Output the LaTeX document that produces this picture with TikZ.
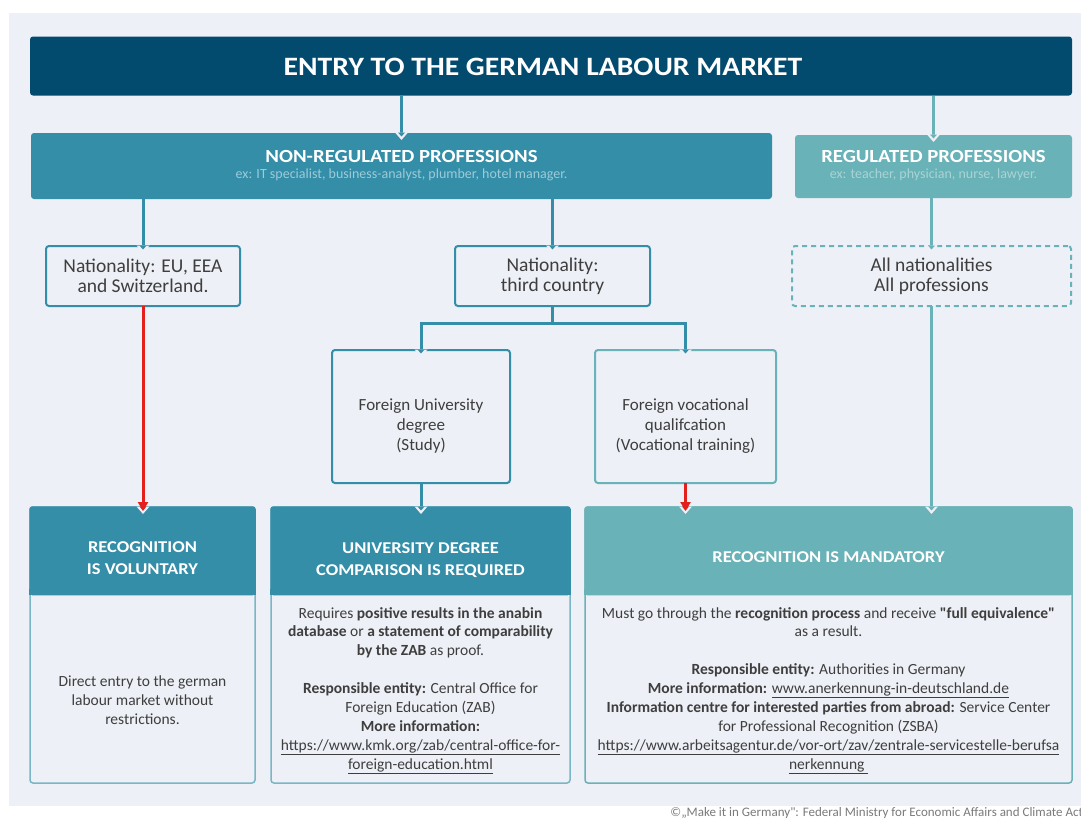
\documentclass[tikz,border=0pt]{standalone}
\usepackage{fontspec}
\setmainfont{Carlito}[Ligatures=TeXOff]
\newfontfamily\hdrfont[FakeStretch=1.12]{Carlito}
\usetikzlibrary{arrows.meta}
\definecolor{navy}{HTML}{034A6F}
\definecolor{teala}{HTML}{348EA8}
\definecolor{tealb}{HTML}{69B2B7}
\definecolor{panel}{HTML}{EDF0F6}
\definecolor{txt}{HTML}{3E3E3E}
\definecolor{redarrow}{HTML}{E3201B}
\definecolor{nrsub}{HTML}{9CCBD9}
\definecolor{rsub}{HTML}{A9D4D6}
\definecolor{footgray}{HTML}{7A7A7A}
\newcommand\mynotch[2]{%
  \fill[panel] (#1) ++(-6.5,-0.5) -- ++(13,0) -- ++(-6.5,7.5) -- cycle;
  \fill[#2] (#1) ++(-3.5,-0.5) -- ++(7,0) -- ++(-3.5,4) -- cycle;}
\begin{document}
\begin{tikzpicture}[x=1pt,y=-1pt,
  every node/.style={inner sep=0pt, outer sep=0pt, text=txt},
  conn/.style={line width=3pt, draw=teala},
  connb/.style={line width=3pt, draw=tealb},
  redarr/.style={line width=3pt, draw=redarrow, -{Triangle[width=10pt,length=9pt]}},
  obox/.style={draw=teala, line width=2pt, rounded corners=3pt, fill=panel},
  hdrtxt/.style={text=white, font=\hdrfont\fontsize{16.5}{22}\selectfont\bfseries, align=center},
  bodytxt/.style={font=\fontsize{15.5}{18.9}\selectfont, align=center},
  midtxt/.style={font=\fontsize{17}{20}\selectfont, align=center},
  bigtxt/.style={font=\fontsize{19.5}{20}\selectfont, align=center}]
\useasboundingbox (0,0) rectangle (1081,820);
\fill[white] (0,0) rectangle (1081,820);
\fill[panel] (9,13) rectangle (1081,806);

% title
\node[fill=navy, rounded corners=3pt, minimum width=1042pt, minimum height=59pt] (title) at (551,66) {};
\node[text=white, font=\hdrfont\fontsize{26.5}{26.5}\selectfont\bfseries] (titletxt) at (543,67) {ENTRY TO THE GERMAN LABOUR MARKET};

% professions
\node[fill=teala, rounded corners=3pt, minimum width=741pt, minimum height=66pt] (nonreg) at (401.5,166) {};
\node[text=white, font=\hdrfont\fontsize{18.5}{18.5}\selectfont\bfseries, anchor=base] (nonregT) at (401.5,162.5) {NON-REGULATED PROFESSIONS};
\node[text=nrsub, font=\fontsize{14}{14}\selectfont, anchor=base] (nonregS) at (401.5,178) {ex: IT specialist, business-analyst, plumber, hotel manager.};

\node[fill=tealb, rounded corners=3pt, minimum width=277pt, minimum height=63pt] (reg) at (933.5,166.5) {};
\node[text=white, font=\hdrfont\fontsize{18.5}{18.5}\selectfont\bfseries, anchor=base] (regT) at (933.5,162.5) {REGULATED PROFESSIONS};
\node[text=rsub, font=\fontsize{14}{14}\selectfont, anchor=base] (regS) at (933.5,178) {ex: teacher, physician, nurse, lawyer.};

% nationality boxes
\node[obox, bigtxt, minimum width=194pt, minimum height=60pt] (eu) at (143,276) {Nationality: EU, EEA\\and Switzerland.};
\node[obox, bigtxt, minimum width=195pt, minimum height=60pt] (tc) at (552.5,276) {Nationality:\\third country};
\node[draw=tealb, line width=2pt, dash pattern=on 5pt off 4pt, rounded corners=3pt, bigtxt, minimum width=279pt, minimum height=60pt] (allnat) at (931.5,276) {All nationalities\\All professions};

% qualification boxes
\node[obox, minimum width=178pt, minimum height=133pt] (univ) at (421,416.5) {};
\node[midtxt] (univT) at (421,426) {Foreign University\\degree\\(Study)};
\node[obox, draw=tealb, minimum width=181pt, minimum height=133pt] (voc) at (685.5,416.5) {};
\node[midtxt] (vocT) at (685.5,426) {Foreign vocational\\qualifcation\\(Vocational training)};

% bottom boxes
\node[draw=teala!65, line width=1.5pt, fill=panel, rounded corners=3pt, minimum width=225pt, minimum height=276pt] (b1) at (142.5,645) {};
\node[fill=teala, rounded corners=3pt, minimum width=226.5pt, minimum height=89pt, anchor=north] (b1h) at ([yshift=0.75pt]b1.north) {};
\fill[teala] (b1h.south west) rectangle ++(226.5,-6);
\node[hdrtxt] (b1t) at (142.5,558) {RECOGNITION\\IS VOLUNTARY};
\node[bodytxt] (b1b) at (142.5,700) {Direct entry to the german\\labour market without\\restrictions.};

\node[draw=teala!65, line width=1.5pt, fill=panel, rounded corners=3pt, minimum width=299pt, minimum height=276pt] (b2) at (420.5,645) {};
\node[fill=teala, rounded corners=3pt, minimum width=300.5pt, minimum height=89pt, anchor=north] (b2h) at ([yshift=0.75pt]b2.north) {};
\fill[teala] (b2h.south west) rectangle ++(300.5,-6);
\node[hdrtxt] (b2t) at (420.5,560) {UNIVERSITY DEGREE\\COMPARISON IS REQUIRED};
\node[bodytxt] (b2b) at (420.5,690.5) {Requires \textbf{positive results in the anabin}\\
\textbf{database} or \textbf{a statement of comparability}\\
\textbf{by the ZAB} as proof.\\[18.9pt]
\textbf{Responsible entity:} Central Office for\\
Foreign Education (ZAB)\\
\textbf{More information:}\\
\underline{https://www.kmk.org/zab/central-office-for-}\\
\underline{foreign-education.html}};

\node[draw=tealb, line width=1.5pt, fill=panel, rounded corners=3pt, minimum width=487pt, minimum height=276pt] (b3) at (828.5,645) {};
\node[fill=tealb, rounded corners=3pt, minimum width=488.5pt, minimum height=89pt, anchor=north] (b3h) at ([yshift=0.75pt]b3.north) {};
\fill[tealb] (b3h.south west) rectangle ++(488.5,-6);
\node[hdrtxt] (b3t) at (828.5,557) {RECOGNITION IS MANDATORY};
\node[bodytxt] (b3b) at (828.5,690.5) {Must go through the \textbf{recognition process} and receive \textbf{"full equivalence"}\\
as a result.\\[18.9pt]
\textbf{Responsible entity:} Authorities in Germany\\
\textbf{More information:} \underline{www.anerkennung-in-deutschland.de}\\
\textbf{Information centre for interested parties from abroad:} Service Center\\
for Professional Recognition (ZSBA)\\
\underline{https://www.arbeitsagentur.de/vor-ort/zav/zentrale-servicestelle-berufsa}\\
\underline{nerkennung\ }};

% connectors
\draw[conn] (title.south -| nonreg.north) -- (nonreg.north);
\draw[connb] (title.south -| reg.north) -- (reg.north);
\draw[conn] (nonreg.south -| eu.north) -- (eu.north);
\draw[conn] (nonreg.south -| tc.north) -- (tc.north);
\draw[connb] (reg.south -| allnat.north) -- (allnat.north);
\coordinate (barc) at (552.5,323);
\draw[conn] (tc.south) -- (barc);
\draw[conn] (univ.north) -- (univ.north |- barc) -- (voc.north |- barc) -- (voc.north);
\draw[conn] (univ.south) -- (b2.north -| univ.south);
\draw[connb] (allnat.south) -- (b3.north -| allnat.south);

\mynotch{nonreg.north}{teala}
\mynotch{reg.north}{tealb}
\mynotch{eu.north}{teala}
\mynotch{tc.north}{teala}
\mynotch{allnat.north}{tealb}
\mynotch{univ.north}{teala}
\mynotch{voc.north}{teala}
\mynotch{b2.north -| univ.south}{teala}
\mynotch{b3.north -| allnat.south}{tealb}
\mynotch{b1.north -| eu.south}{redarrow}
\mynotch{b3.north -| voc.south}{redarrow}

\coordinate (euend) at (b1.north -| eu.south);
\coordinate (vocend) at (b3.north -| voc.south);
\draw[redarr] (eu.south) -- ([yshift=-4pt]euend);
\draw[redarr] (voc.south) -- ([yshift=-4pt]vocend);

% footer
\node[anchor=base east, font=\fontsize{13}{13}\selectfont, text=footgray] (foot) at (1083,816) {©„Make it in Germany": Federal Ministry for Economic Affairs and Climate Act};
\end{tikzpicture}
\end{document}
